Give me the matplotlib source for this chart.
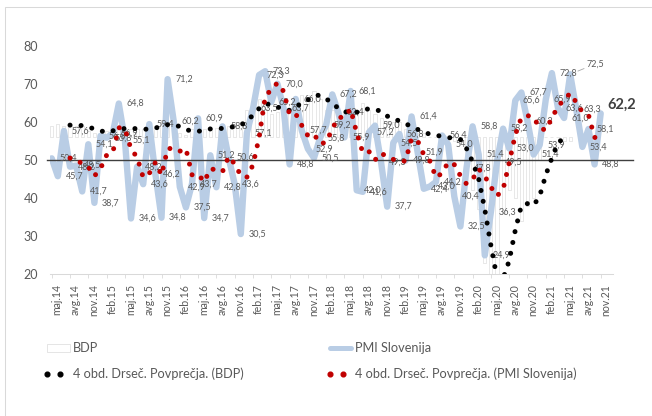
import matplotlib
matplotlib.use("Agg")
import matplotlib.pyplot as plt
from matplotlib.lines import Line2D
from matplotlib.patches import Rectangle
import numpy as np
import pandas as pd

plt.rcParams["font.family"] = ["Lato", "DejaVu Sans"]

# ---------------------------------------------------------------------------
# Data (monthly, maj.14 .. nov.21)
# ---------------------------------------------------------------------------
tick_labels = [
    "maj.14", "avg.14", "nov.14", "feb.15", "maj.15", "avg.15", "nov.15",
    "feb.16", "maj.16", "avg.16", "nov.16", "feb.17", "maj.17", "avg.17",
    "nov.17", "feb.18", "maj.18", "avg.18", "nov.18", "feb.19", "maj.19",
    "avg.19", "nov.19", "feb.20", "maj.20", "avg.20", "nov.20", "feb.21",
    "maj.21", "avg.21", "nov.21",
]

pmi = [
    50.4, 45.7, 57.6, 48.2, 48.5, 41.7, 54.1, 38.7, 56.3, 55.8,
    56.9, 64.8, 55.1, 34.6, 48.2, 43.6, 59.4, 46.2, 34.8, 71.2,
    60.2, 42.9, 37.5, 43.7, 60.9, 34.7, 51.2, 42.8, 58.8, 50.6,
    43.6, 30.5, 57.1, 63.5, 72.3, 73.3, 65.2, 70.0, 63.7, 48.8,
    66.0, 57.7, 52.9, 50.5, 55.8, 59.2, 67.2, 62.4, 55.9, 68.1,
    42.0, 41.6, 57.2, 59.0, 49.3, 37.7, 54.5, 56.8, 49.8, 61.4,
    51.9, 42.4, 43.0, 44.2, 56.4, 54.0, 40.4, 32.5, 47.8, 58.8,
    51.4, 24.9, 36.3, 49.5, 58.2, 53.0, 65.6, 67.7, 60.2, 51.4,
    53.9, 65.9, 72.8, 63.6, 61.0, 72.5, 63.3, 53.4, 58.1, 48.8,
    62.2,
]

bdp = [
    59.0, 59.5, 59.0, 59.0, 59.0, 59.0, 57.5, 57.0, 57.0, 57.5,
    59.0, 58.5, 58.0, 58.0, 58.0, 58.0, 58.5, 59.0, 59.5, 60.0,
    58.5, 57.0, 56.5, 58.0, 58.5, 58.0, 58.0, 58.5, 58.5, 59.0,
    59.0, 60.0, 63.0, 65.0, 66.0, 65.0, 62.0, 62.5, 64.0, 63.5,
    65.5, 67.0, 67.0, 68.0, 66.0, 63.0, 63.0, 62.0, 62.5, 62.5,
    63.0, 65.0, 63.0, 62.0, 61.0, 60.0, 60.0, 60.0, 58.0, 57.0,
    57.0, 57.0, 56.0, 56.0, 55.5, 56.0, 55.0, 55.0, 46.0, 42.0,
    37.0, 23.0, 8.0, 8.0, 36.0, 42.0, 40.0, 34.0, 38.0, 40.0,
    50.0, 56.0, 56.0, 56.0, 55.0, 55.0,
]

BDP_BASE = 56      # columns hang from the (hidden) secondary-axis origin
REF_LEVEL = 50     # horizontal reference line
MA_WINDOW = 4

# colours
PMI_BLUE = "#B9CDE5"
DARK_RED = "#C00000"
TEXT_GREY = "#595959"
AXIS_GREY = "#D9D9D9"

W, H = 652, 416


def fx(px):
    return px / W


def fy(py):
    return 1 - py / H


def fmt(v):
    return f"{v:.1f}".replace(".", ",")


x_pmi = np.arange(len(pmi))
x_bdp = np.arange(len(bdp))
pmi_ma = pd.Series(pmi).rolling(MA_WINDOW).mean()
bdp_ma = pd.Series(bdp).rolling(MA_WINDOW).mean()

fig = plt.figure(figsize=(W / 100, H / 100), dpi=100)
ax = fig.add_axes([fx(50), fy(274), fx(612.7) - fx(50), fy(45.7) - fy(274)])

# BDP columns: white with a faint outline
ax.bar(x_bdp, np.array(bdp) - BDP_BASE, bottom=BDP_BASE, width=0.5,
       color="white", edgecolor="#DEDEDE", linewidth=0.5, zorder=1)

# PMI line
ax.plot(x_pmi, pmi, color=PMI_BLUE, lw=4.6, solid_joinstyle="round",
        solid_capstyle="round", zorder=2)

# reference line at 50 (runs a bit past the plot on both sides)
ax.plot([-0.8, 95.3], [REF_LEVEL, REF_LEVEL], color="#3F3F3F", lw=1.0,
        clip_on=False, zorder=3)

# data labels on every PMI point
last = len(pmi) - 1
for i, v in enumerate(pmi):
    if i == last:
        ax.annotate(fmt(v), xy=(i, v), xytext=(4.5, 6), textcoords="offset points",
                    ha="left", va="center", fontsize=10.5, fontweight="bold",
                    color="#404040", zorder=4)
    elif i == last - 5:
        ax.annotate(fmt(v), xy=(i, v), xytext=(12, 7.5), textcoords="offset points",
                    ha="left", va="center", fontsize=6.5, color=TEXT_GREY, zorder=4,
                    arrowprops=dict(arrowstyle="-", color="#A6A6A6", lw=0.6,
                                    shrinkA=0, shrinkB=6))
    else:
        ax.annotate(fmt(v), xy=(i, v), xytext=(5.5, 0), textcoords="offset points",
                    ha="left", va="center", fontsize=6.5, color=TEXT_GREY, zorder=4)

# 4-period moving averages drawn as round-dot lines
dot_style = dict(lw=3.6, linestyle=(0, (0.01, 2.2)), dash_capstyle="round")
ax.plot(x_bdp, bdp_ma, color="black", zorder=5, **dot_style)
ax.plot(x_pmi, pmi_ma, color=DARK_RED, zorder=6, **dot_style)

# axes styling
ax.set_xlim(-0.28, 91.97)
ax.set_ylim(20, 80)
ax.set_yticks(range(20, 81, 10))
ax.tick_params(axis="y", length=0, pad=8.6, labelsize=9, labelcolor=TEXT_GREY)
ax.set_xticks(range(0, len(pmi), 3))
ax.set_xticklabels(tick_labels, rotation=90, ha="left")
ax.tick_params(axis="x", length=2.9, width=0.6, color=AXIS_GREY, pad=4.2,
               labelsize=7.6, labelcolor=TEXT_GREY)
for side in ("left", "right", "top"):
    ax.spines[side].set_visible(False)
ax.spines["bottom"].set_color(AXIS_GREY)
ax.spines["bottom"].set_linewidth(0.75)

# legend drawn by hand in pixel positions
fig.add_artist(Rectangle((fx(47), fy(352)), fx(23), fy(344) - fy(352),
                         transform=fig.transFigure, facecolor="white",
                         edgecolor="#E0E0E0", lw=0.6))
fig.text(fx(73), fy(348), "BDP", fontsize=9.2, color=TEXT_GREY, va="center")
fig.add_artist(Line2D([fx(330), fx(351)], [fy(348), fy(348)],
                      transform=fig.transFigure, color=PMI_BLUE, lw=3.6,
                      solid_capstyle="round"))
fig.text(fx(355), fy(348), "PMI Slovenija", fontsize=9.2, color=TEXT_GREY, va="center")

fig.add_artist(Line2D([fx(47), fx(60)], [fy(374), fy(374)], transform=fig.transFigure,
                      color="black", marker="o", markersize=3.4, lw=0))
fig.text(fx(73), fy(374), "4 obd. Drseč. Povprečja. (BDP)", fontsize=9.2,
         color=TEXT_GREY, va="center")
fig.add_artist(Line2D([fx(330), fx(343)], [fy(374), fy(374)], transform=fig.transFigure,
                      color=DARK_RED, marker="o", markersize=3.4, lw=0))
fig.text(fx(355), fy(374), "4 obd. Drseč. Povprečja. (PMI Slovenija)", fontsize=9.2,
         color=TEXT_GREY, va="center")

# chart-area border
fig.add_artist(Rectangle((fx(5), fy(430)), fx(670) - fx(5), fy(7) - fy(430),
                         transform=fig.transFigure, fill=False,
                         edgecolor=AXIS_GREY, lw=0.75))

fig.savefig("out.png", dpi=100)
